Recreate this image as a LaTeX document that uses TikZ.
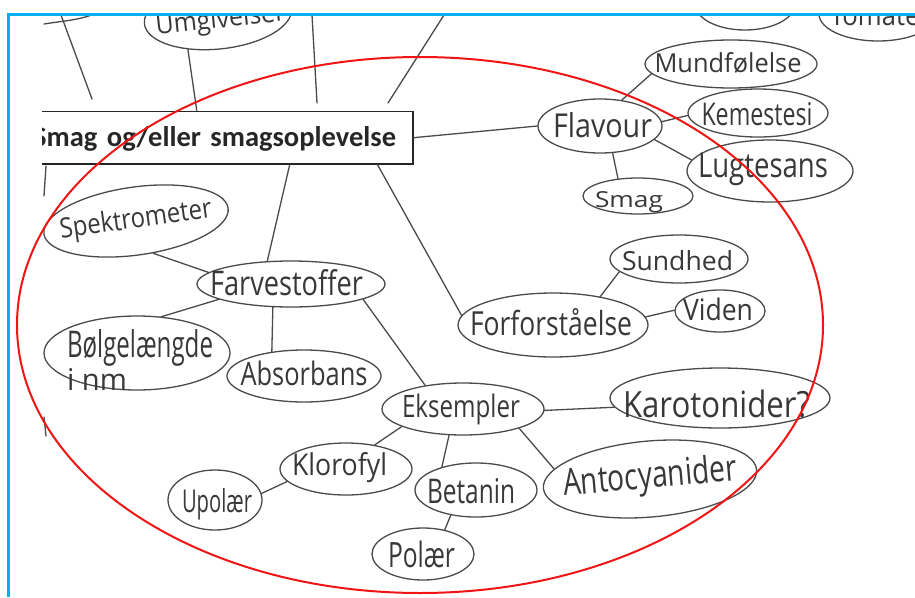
\documentclass[tikz,border=0pt]{standalone}
\usepackage{fontspec}
\setmainfont{Open Sans}
\newfontfamily\calib{Carlito}
\usetikzlibrary{shapes.geometric}
\definecolor{pencil}{HTML}{4A4A4A}
\definecolor{ink}{HTML}{383838}
\definecolor{frameblue}{HTML}{00B0F0}
\definecolor{ringred}{HTML}{F01414}
% handwritten-style word: width, ascender height, x offset, baseline drop, text
\newcommand\hw[5]{\makebox[0pt]{\hspace*{#3pt}\hspace*{#3pt}\raisebox{-#4pt}[0pt][0pt]{\resizebox{#1pt}{#2pt}{#5}}}}
% left-aligned variant
\newcommand\hwl[5]{\makebox[0pt][l]{\hspace*{#3pt}\raisebox{-#4pt}[0pt][0pt]{\resizebox{#1pt}{#2pt}{#5}}}}
\begin{document}
\begin{tikzpicture}[x=1pt,y=-1pt,
  font=\fontsize{24}{25}\selectfont,
  pen/.style={draw=pencil, line width=1.3pt, line cap=round},
  bub/.style 2 args={ellipse, pen, inner sep=0pt, text=ink, minimum width=#1pt, minimum height=#2pt}
]
\useasboundingbox (0,0) rectangle (915,597);

\begin{scope}
\clip (42,15) rectangle (915,597);

% central heading box
\node[draw=black!85, line width=1.8pt, anchor=north east, minimum height=52.5pt,
      text width=380pt, align=right, inner xsep=17pt, inner ysep=0pt,
      text height=21pt, text depth=3pt, text=black!85,
      font=\calib\bfseries\fontsize{28.5}{30}\selectfont] (main) at (414,110.5)
      {Smag og/eller smagsoplevelse};

% bubbles
\node[bub={148}{66}, rotate=6] (umg) at (218,16) {\hw{130}{20}{2}{12}{Umgivelser}};
\node[bub={100}{52}] (topr) at (745,4) {};
\node[bub={118}{54}] (tom) at (878,14) {\hw{100}{20}{2}{11}{Tomater}};
\node[bub={124}{54}] (flav) at (600,126) {\hw{99}{25}{2.5}{11}{Flavour}};
\node[bub={172}{48}] (mund) at (731,64) {\hw{147}{20}{-3}{8}{Mundfølelse}};
\node[bub={140}{48}] (kem) at (758,113) {\hw{111}{23}{-1}{12}{Kemestesi}};
\node[bub={166}{62}] (lugt) at (770,171) {\hw{130}{24.5}{-7}{6}{Lugtesans}};
\node[bub={110}{36}] (smag) at (638,196) {\hw{68}{16}{-9}{11}{Smag}};
\node[bub={186}{68}, rotate=8] (spek) at (136,221) {\hw{153}{21}{0}{7}{Spektrometer}};
\node[bub={188}{46}] (farv) at (291,284) {\hw{153}{26}{-4.5}{11}{Farvestoffer}};
\node[bub={186}{74}] (bolg) at (137,353)
  {\hwl{146}{28}{-70}{4}{Bølgelængde}\hwl{60}{22}{-70}{37}{i nm}};
\node[bub={154}{52}] (abs) at (304,376) {\hw{127}{24.5}{0}{9}{Absorbans}};
\node[bub={190}{64}] (forf) at (553,325) {\hw{162}{27}{-2}{10}{Forforståelse}};
\node[bub={138}{48}] (sund) at (679,259) {\hw{111}{20}{-1.5}{11}{Sundhed}};
\node[bub={90}{42}] (vid) at (720,311) {\hw{70}{22.5}{-2}{9}{Viden}};
\node[bub={162}{52}] (eks) at (463,409) {\hw{118}{23.5}{-2}{8}{Eksempler}};
\node[bub={220}{60}] (karo) at (720,398) {\hw{187}{27.5}{-3.5}{19}{Karotonider?}};
\node[bub={214}{76}, rotate=5] (anto) at (650,479) {\hw{174}{28}{0}{9}{Antocyanider}};
\node[bub={132}{52}] (klor) at (346,469) {\hw{95}{23}{-6.5}{6}{Klorofyl}};
\node[bub={122}{54}] (beta) at (476,490) {\hw{88}{25}{-5}{13}{Betanin}};
\node[bub={94}{60}] (upol) at (215,500) {\hw{70}{24}{2}{12}{Upolær}};
\node[bub={102}{52}] (pol) at (423,554) {\hw{67}{26.5}{-1.5}{13}{Polær}};

% connectors
\draw[pen] (umg.222) -- (main.109);
\draw[pen] (main.east) -- (flav.west);
\draw[pen] (flav.50) -- (mund.187);
\draw[pen] (flav.4) -- (kem.182);
\draw[pen] (flav.-14) -- (lugt.172);
\draw[pen] (flav.-65) -- (smag.139);
\draw[pen] (main.-18) -- (farv.136);
\draw[pen] (spek.-70) -- (farv.172);
\draw[pen] (farv.192) -- (bolg.56);
\draw[pen] (farv.232) -- (abs.143);
\draw[pen] (farv.-12) -- (eks.148);
\draw[pen] (main.-9) -- (forf.174);
\draw[pen] (forf.31) -- (sund.192);
\draw[pen] (forf.5) -- (vid.179);
\draw[pen] (eks.-1) -- (karo.185);
\draw[pen] (eks.-19) -- (anto.169);
\draw[pen] (eks.196) -- (klor.40);
\draw[pen] (eks.242) -- (beta.146);
\draw[pen] (klor.192) -- (upol.8);
\draw[pen] (beta.225) -- (pol.48);

% loose strands running in from the edges
\coordinate (tlA) at (44,24);
\coordinate (tlB) at (96,13);
\coordinate (tlC) at (61,15);
\coordinate (tlD) at (92,99);
\coordinate (tmA) at (312,15);
\coordinate (tmB) at (317,103);
\coordinate (trA) at (444,15);
\coordinate (trB) at (388,103);
\coordinate (lA) at (46,166);
\coordinate (lB) at (44,196);
\coordinate (lC) at (44,417);
\coordinate (lD) at (46,436);
\draw[pen] (tlA) .. controls (62,21) and (82,20) .. (tlB);
\draw[pen] (tlC) -- (tlD);
\draw[pen] (tmA) -- (tmB);
\draw[pen] (trA) -- (trB);
\draw[pen] (lA) -- (lB);
\draw[pen] (lC) -- (lD);
\end{scope}

% red ring
\draw[ringred, line width=2pt] (420,325) ellipse [x radius=403pt, y radius=268pt];

% blue frame
\draw[frameblue, line width=2.4pt] (8.3,597) -- (8.3,14.3) -- (915,14.3);
\end{tikzpicture}
\end{document}
